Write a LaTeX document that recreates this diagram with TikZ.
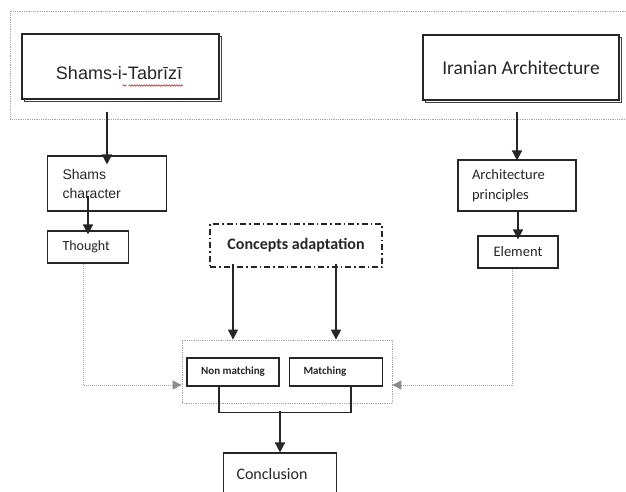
\documentclass[tikz,border=0pt]{standalone}
\usepackage{fontspec}
\setmainfont{Carlito}
\newfontfamily\arialf{Liberation Sans}
\usetikzlibrary{arrows.meta,decorations.pathmorphing,calc,shadows}
\begin{document}
\begin{tikzpicture}[x=1pt,y=-1pt,
  box/.style={draw=black!85, line width=1.1pt, inner sep=0pt, text=black!85},
  topbox/.style={box, fill=white, drop shadow={shadow xshift=2.2pt, shadow yshift=-2.2pt, fill=none, draw=black!75, line width=0.8pt, opacity=1}},
  arr/.style={draw=black!85, line width=1.4pt, -{Triangle[width=10pt,length=10pt]}},
  garr/.style={draw=black!35, line width=1pt, densely dotted, -{Triangle[width=9pt,length=9pt,color=black!45,fill=black!45]}},
  frm/.style={draw=black!35, line width=0.8pt, densely dotted, inner sep=0pt},
  bracket/.style={draw=black!85, line width=1.4pt},
  wavy/.style={draw=red!80!black, line width=0.5pt, decorate, decoration={snake, amplitude=0.7pt, segment length=2.5pt}}
]
\clip (0,0) rectangle (626,492);
\fill[white] (0,0) rectangle (626,492);

% top frame
\node[frm, minimum width=630pt, minimum height=108pt, anchor=north west] (tf) at (10,11) {};

% top boxes
\node[topbox, minimum width=197pt, minimum height=65pt] (st) at (120.5,66.5) {};
\node[font=\arialf\fontsize{18}{20}\selectfont, text=black!85, inner sep=0pt] (stt) at (119,73) {Shams-i-Tabrīzī};
\draw[wavy] (122.5,85.5) -- (126.5,85.5);
\draw[wavy] (128.5,85.5) -- (183,85.5);

\node[topbox, minimum width=196pt, minimum height=65pt, font=\fontsize{19.5}{22}\selectfont] (ia) at (521,67.5) {Iranian Architecture};

% left column
\node[box, minimum width=119pt, minimum height=55pt, text width=89pt, inner xsep=15pt, align=left, font=\arialf\fontsize{14}{19}\selectfont] (sc) at (107,183.5) {Shams\\character};
\node[box, minimum width=81pt, minimum height=32pt, text width=51pt, inner xsep=15pt, align=left, font=\fontsize{14}{17}\selectfont] (th) at (88,247) {Thought};

% right column
\node[box, minimum width=118pt, minimum height=51pt, text width=90pt, inner xsep=14pt, align=left, font=\fontsize{14.5}{20}\selectfont] (ap) at (517,185.5) {Architecture\\principles};
\node[box, minimum width=80pt, minimum height=32pt, font=\fontsize{14.5}{17}\selectfont] (el) at (518,252) {Element};

% concepts
\node[box, dash pattern=on 6pt off 3pt on 1.5pt off 3pt, minimum width=172pt, minimum height=43pt, font=\bfseries\fontsize{16}{19}\selectfont] (ca) at (296,245.5) {Concepts adaptation};

% group
\node[frm, minimum width=210pt, minimum height=63pt] (gr) at (287,371.5) {};
\node[box, minimum width=92pt, minimum height=28pt, font=\bfseries\fontsize{11}{13}\selectfont] (nm) at (233,372) {Non matching};
\node[box, minimum width=93pt, minimum height=28pt, text width=65pt, inner xsep=14pt, align=left, font=\bfseries\fontsize{11}{13}\selectfont] (ma) at (336,372) {Matching};

% conclusion
\node[box, minimum width=113pt, minimum height=42pt, text width=87pt, inner xsep=13pt, align=left, font=\fontsize{16}{19}\selectfont] (co) at (280,474) {Conclusion};

% arrows
\draw[arr] ($(sc.north |- st.south)+(0,12)$) -- ($(sc.north)+(0,9)$);
\draw[arr] ($(th.north |- sc.south)+(0,-16)$) -- ($(th.north)+(0,4)$);
\draw[arr] ($(ap.north |- ia.south)+(0,11)$) -- ($(ap.north)+(0,1)$);
\draw[arr] (el.north |- ap.south) -- ($(el.north)+(0,4)$);
\draw[arr] ($(nm.north |- ca.south)+(0,-4)$) -- (nm.north |- gr.north);
\draw[arr] ($(ma.north |- ca.south)+(0,-4)$) -- (ma.north |- gr.north);

\coordinate (jn) at ($(co.north)+(0,-41)$);
\draw[bracket] ($(nm.south)+(-14,0)$) |- ($(ma.south)+(15,26)$) -- ($(ma.south)+(15,0)$);
\draw[arr] (jn) -- (co.north);

\draw[garr] ($(th.south)+(-5,0)$) |- ($(gr.west)+(0,13.5)$);
\draw[garr] ($(el.south)+(-6,0)$) |- ($(gr.east)+(0,13.5)$);
\end{tikzpicture}
\end{document}
